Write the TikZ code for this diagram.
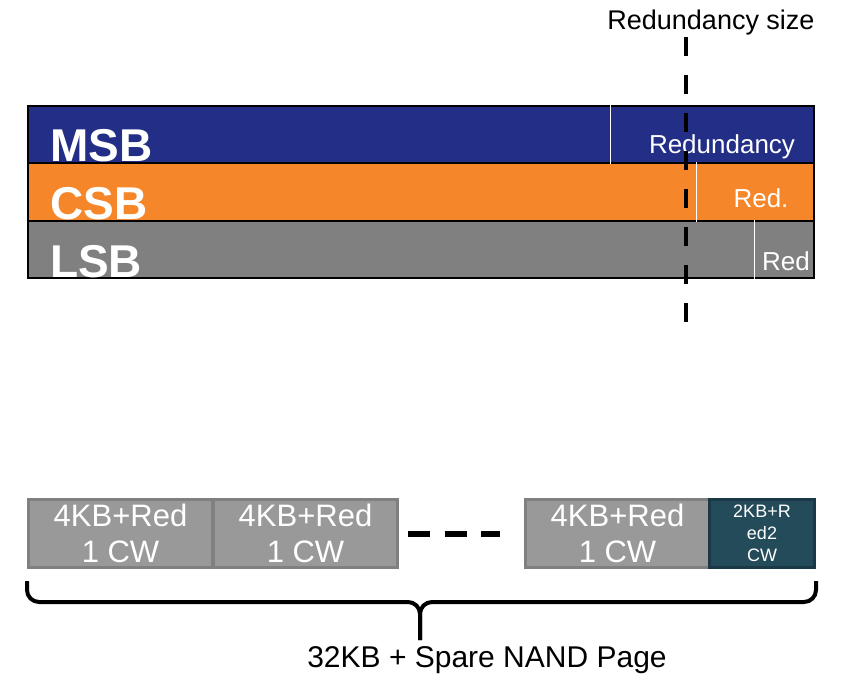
\documentclass[tikz,border=0pt]{standalone}
\usepackage{fontspec}
\setmainfont{Liberation Sans}
\usetikzlibrary{positioning}
\definecolor{msbblue}{HTML}{232F86}
\definecolor{csborange}{HTML}{F5862A}
\definecolor{lsbgray}{HTML}{808080}
\definecolor{cwgray}{HTML}{999999}
\definecolor{cwedge}{HTML}{808080}
\definecolor{lastteal}{HTML}{244B5A}
\definecolor{lastedge}{HTML}{1A3845}
\begin{document}
\begin{tikzpicture}[
            x=1pt, y=-1pt,
            bar/.style={draw=black, line width=1.5pt, minimum width=786pt, inner sep=0pt, anchor=north west},
            bitlabel/.style={text=white, font=\bfseries\fontsize{46}{46}\selectfont, inner sep=0pt, anchor=base west},
            redlabel/.style={text=white, font=\fontsize{26}{26}\selectfont, inner sep=0pt, anchor=base},
            divider/.style={white, line width=1pt},
            cw/.style={draw=cwedge, fill=cwgray, line width=3pt, minimum width=184pt, minimum height=68pt,
                inner sep=0pt, anchor=north west, text=white, align=center, font=\fontsize{31}{36}\selectfont},
            lastcw/.style={cw, draw=lastedge, fill=lastteal, minimum width=105pt, font=\fontsize{18}{22}\selectfont},
            brace/.style={draw, line width=4pt, rounded corners=12pt}
            ]
        \useasboundingbox (0,0) rectangle (841,675);
        \node[bar, fill=msbblue, minimum height=57pt] (msb) at (27,105) {};
        \node[bar, fill=csborange, minimum height=58pt] (csb) at (27,162) {};
        \node[bar, fill=lsbgray, minimum height=57pt] (lsb) at (27,220) {};
        \draw[divider] (610,0 |- msb.north) -- (610,0 |- msb.south);
        \draw[divider] (696,0 |- csb.north) -- (696,0 |- csb.south);
        \draw[divider] (754,0 |- lsb.north) -- (754,0 |- lsb.south);
        \node[bitlabel] (msbtext) at (50,161) {MSB};
        \node[bitlabel] (csbtext) at (50,219) {CSB};
        \node[bitlabel] (lsbtext) at (50,277) {LSB};
        \node[redlabel] (msbred) at (722,153) {Redundancy};
        \node[redlabel] (csbred) at (761,207) {Red.};
        \node[redlabel] (lsbred) at (786,270) {Red};
        \node[anchor=base, inner sep=0pt, font=\fontsize{27}{27}\selectfont] (redsize) at (711,29) {Redundancy size};
        \coordinate (rtop) at (686,37);
        \coordinate (rbot) at (686,326);
        \draw[line width=4pt, dash pattern=on 19pt off 19pt] (rtop) -- (rbot);
        \node[cw] (cw1) at (27,498) {4KB+Red\\1 CW};
        \node[cw] (cw2) at (212,498) {4KB+Red\\1 CW};
        \node[cw] (cw3) at (524,498) {4KB+Red\\1 CW};
        \node[lastcw] (cwlast) at (708,498) {2KB+R\\ed2\\CW};
        \draw[line width=6pt, dash pattern=on 22pt off 14.5pt, shorten <=9pt, shorten >=24pt] (cw2.east) -- (cw3.west);
        \coordinate (bl) at ([yshift=-12pt]cw1.south west);
        \coordinate (br) at ([yshift=-12pt]cwlast.south east);
        \coordinate (bmid) at (420,602);
        \coordinate (tip) at (420,640);
        \draw[brace] (bl) |- (bmid) -- (tip);
        \draw[brace] (br) |- (bmid) -- (tip);
        \node[anchor=base, inner sep=0pt, font=\fontsize{30}{30}\selectfont] (pagetext) at (487,667) {32KB + Spare NAND Page};
\end{tikzpicture}
\end{document}
